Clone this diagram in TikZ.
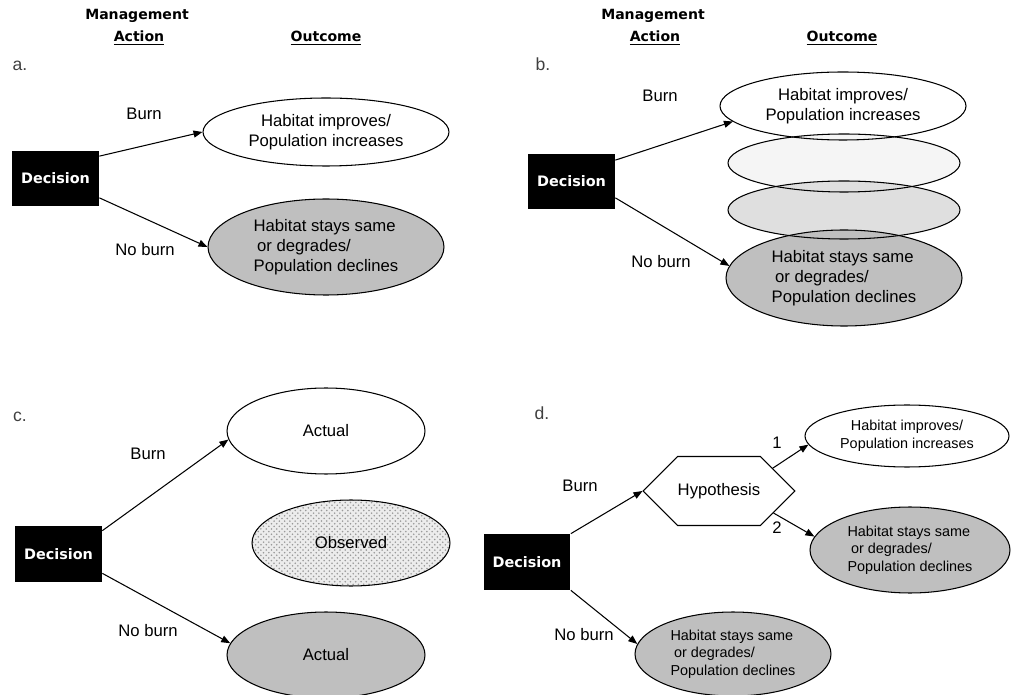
\documentclass[tikz,border=0pt]{standalone}
\usepackage{fontspec}
\setmainfont{Liberation Sans}
\newfontfamily\headfont{DejaVu Sans}
\usetikzlibrary{arrows.meta,shapes.geometric,shapes.symbols,patterns}

\begin{document}
\begin{tikzpicture}[x=0.02cm,y=-0.02cm,
    every node/.style={font=\fontsize{9.5}{11.4}\selectfont},
    decision/.style={fill=black,text=white,minimum width=1.74cm,minimum height=1.12cm,
      inner sep=0pt,font=\headfont\bfseries\fontsize{8.2}{10}\selectfont},
    outcome/.style={draw,ellipse,line width=0.6pt,inner sep=0pt,align=center},
    head/.style={font=\headfont\bfseries\fontsize{8}{9.5}\selectfont},
    panel/.style={text=black!75,font=\fontsize{10}{12}\selectfont},
    choice/.style={-{Triangle[length=0.18cm,width=0.14cm]},line width=0.6pt},
    smalltext/.style={font=\fontsize{8.2}{10}\selectfont}
  ]
  \useasboundingbox (0,0) rectangle (1014,695);
  \def \gry {gray!50} % fill of the bad outcome

  % column heads of panels a and b
  \foreach \mx/\ox in {137/326, 653/842}
  {
    \node[head] (mgmt\mx) at (\mx,16) {Management};
    \node[head] (act\mx) at (\mx+2,38) {\underline{Action}};
    \node[head] (out\mx) at (\ox,38) {\underline{Outcome}};
  }

  % a.
  \node[panel] (la) at (20,66) {a.};
  \node[decision] (deca) at (55.5,178.5) {Decision};
  \node[outcome,minimum width=4.92cm,minimum height=1.36cm] (upa) at (326,132)
    {Habitat improves/\\Population increases};
  \node[outcome,fill=\gry,minimum width=4.72cm,minimum height=1.92cm,align=left] (dna) at (326,247)
    {Habitat stays same\\\hspace*{2pt}or degrades/\\Population declines};
  \node (burna) at (144,114) {Burn};
  \node (noburna) at (145,250) {No burn};
  \draw[choice] ([yshift=-0.12cm]deca.north east) -- (upa.west);
  \draw[choice] ([yshift=0.18cm]deca.south east) -- (dna.west);

  % b.
  \node[panel] (lb) at (543,64) {b.};
  \node[decision] (decb) at (571.5,181.5) {Decision};
  \node[ellipse,fill=white,minimum width=4.92cm,minimum height=1.36cm,inner sep=0pt,align=center] (b1) at (843,106)
    {Habitat improves/\\Population increases};
  \node[ellipse,fill=gray!8,minimum width=4.64cm,minimum height=1.16cm] (b2) at (844,163) {};
  \node[ellipse,fill=gray!25,minimum width=4.64cm,minimum height=1.16cm] (b3) at (844,210) {};
  \node[ellipse,fill=\gry,minimum width=4.72cm,minimum height=1.92cm,inner sep=0pt,align=left] (b4) at (844,278)
    {Habitat stays same\\\hspace*{2pt}or degrades/\\Population declines};
  \foreach \e/\rx/\ry in {b1/123/34, b2/116/29, b3/116/29, b4/118/48}
    \draw[line width=0.6pt] (\e.center) ellipse [x radius=\rx, y radius=\ry];
  \node (burnb) at (660,96) {Burn};
  \node (noburnb) at (661,262) {No burn};
  \draw[choice] ([yshift=-0.14cm]decb.north east) -- (b1.188);
  \draw[choice] ([yshift=0.24cm]decb.south east) -- (b4.174);

  % c.
  \node[panel] (lc) at (20,417) {c.};
  \node[decision] (decc) at (58.5,554) {Decision};
  \node[outcome,minimum width=3.96cm,minimum height=1.72cm] (c1) at (326,431) {Actual};
  \node[outcome,pattern=crosshatch dots,pattern color=gray!80,preaction={fill=gray!15},
    minimum width=3.96cm,minimum height=1.72cm] (c2) at (351,543) {Observed};
  \node[outcome,fill=\gry,minimum width=3.96cm,minimum height=1.72cm] (c3) at (326,655) {Actual};
  \node (burnc) at (148,454) {Burn};
  \node (noburnc) at (148,631) {No burn};
  \draw[choice] ([yshift=-0.1cm]decc.north east) -- (c1.185);
  \draw[choice] ([yshift=0.18cm]decc.south east) -- (c3.173);

  % d.
  \node[panel] (ld) at (542,413) {d.};
  \node[decision] (decd) at (527,562) {Decision};
  \node[signal,signal to=west and east,draw,line width=0.6pt,minimum width=2.92cm,minimum height=1.38cm,
    inner sep=0pt] (hyp) at (719,491) {Hypothesis};
  \node[outcome,smalltext,minimum width=4.08cm,minimum height=1.24cm] (d1) at (907,436)
    {Habitat improves/\\Population increases};
  \node[outcome,smalltext,fill=\gry,minimum width=4cm,minimum height=1.72cm,align=left] (d2) at (910,550)
    {Habitat stays same\\\hspace*{2pt}or degrades/\\Population declines};
  \node[outcome,smalltext,fill=\gry,minimum width=3.92cm,minimum height=1.68cm,align=left] (d3) at (733,654)
    {Habitat stays same\\\hspace*{2pt}or degrades/\\Population declines};
  \node (burnd) at (580,486) {Burn};
  \node (noburnd) at (584,635) {No burn};
  \node (one) at (777,443) {1};
  \node (two) at (777,528) {2};
  \draw[choice] (decd.north east) -- (hyp.west);
  \draw[choice] (decd.south east) -- (d3.174);
  \draw[choice] (hyp.23) -- (d1.185);
  \draw[choice] (hyp.-22) -- (d2.172);
\end{tikzpicture}
\end{document}
